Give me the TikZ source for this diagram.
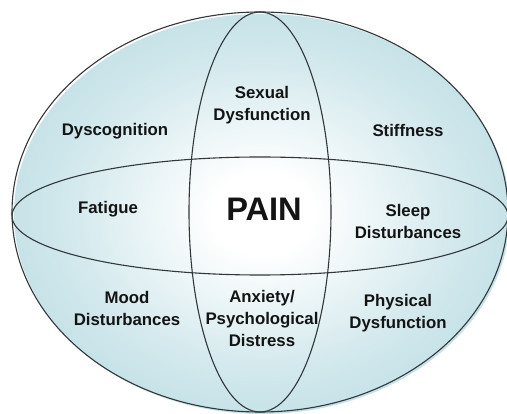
\documentclass[tikz,border=0pt]{standalone}
\usepackage{fontspec}
\setmainfont{Liberation Sans}
\definecolor{edgeblue}{RGB}{172,213,221}
\definecolor{linegray}{RGB}{50,55,58}
\pgfdeclareradialshading{painshade}{\pgfpoint{0bp}{0bp}}{color(0bp)=(white); color(5bp)=(white); color(20bp)=(edgeblue!55!white); color(38bp)=(edgeblue); color(100bp)=(edgeblue)}
\begin{document}
\begin{tikzpicture}[x=1pt,y=-1pt,
  lbl/.style={font=\fontsize{16.8}{22}\selectfont\bfseries, align=center, text=black!92, inner sep=0pt},
  ring/.style={draw=linegray, line width=1.1pt}]
\useasboundingbox (0,0) rectangle (507,414);
\fill[white] (0,0) rectangle (507,414);
\begin{scope}
\clip (0,0) rectangle (507,414);
\path[shading=painshade] (262,214) ellipse [x radius=248pt, y radius=200pt];
\draw[ring] (260,212) ellipse [x radius=248pt, y radius=200pt];
\draw[ring] (260,216) ellipse [x radius=248pt, y radius=59pt];
\draw[ring] (260,212) ellipse [x radius=71pt, y radius=200pt];
\end{scope}
\node[lbl] (dys) at (115,131) {Dyscognition};
\node[lbl] (sex) at (262,105) {Sexual\\Dysfunction};
\node[lbl] (stiff) at (408,130) {Stiffness};
\node[lbl] (fat) at (108,209) {Fatigue};
\node[lbl, font=\fontsize{32.6}{36}\selectfont\bfseries] (pain) at (264,209) {PAIN};
\node[lbl] (sleep) at (408,221) {Sleep\\Disturbances};
\node[lbl] (mood) at (127,308) {Mood\\Disturbances};
\node[lbl] (anx) at (262,318) {Anxiety/\\Psychological\\Distress};
\node[lbl] (phys) at (398,313) {Physical\\Dysfunction};
\end{tikzpicture}
\end{document}
